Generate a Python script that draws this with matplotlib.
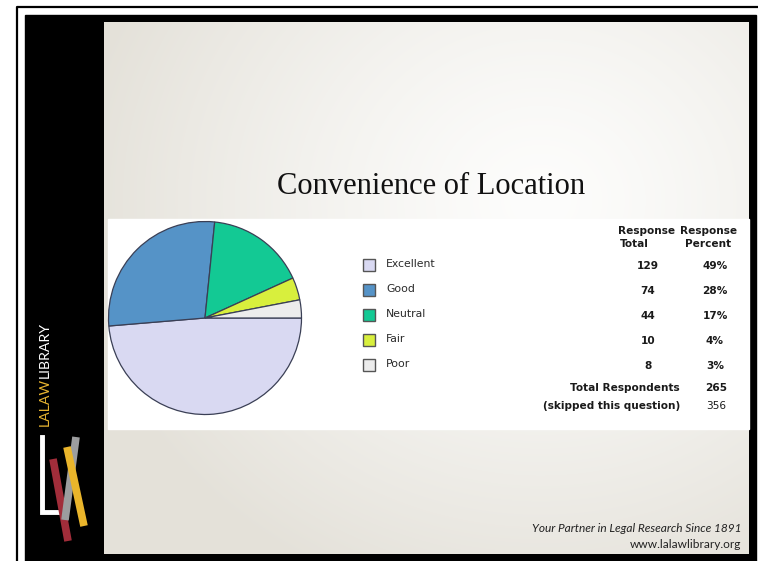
import numpy as np
import matplotlib.pyplot as plt
from matplotlib.patches import Rectangle

# survey data
labels = ['Excellent', 'Good', 'Neutral', 'Fair', 'Poor']
totals = [129, 74, 44, 10, 8]
percents = ['49%', '28%', '17%', '4%', '3%']
colors = ['#d9d9f2', '#5593c7', '#13c994', '#d8ef3d', '#ececec']
total_respondents = 265
skipped = 356

W, H = 758, 561
fig = plt.figure(figsize=(W / 100, H / 100), dpi=100)
fig.patch.set_facecolor('white')

# background axes in pixel coordinates (y downward)
bg = fig.add_axes([0, 0, 1, 1])
bg.set_xlim(0, W)
bg.set_ylim(H, 0)
bg.axis('off')

# outer thin frame
bg.plot([16.5, 16.5, W], [H, 6.5, 6.5], color='black', lw=1.6, solid_capstyle='butt')
# black slide frame
bg.add_patch(Rectangle((25, 15), 731, H - 15, color='black', zorder=1))

# slide background gradient
x0, x1, y0, y1 = 104, 749, 22, 554
yy, xx = np.mgrid[y0:y1, x0:x1]
d = np.sqrt((xx - 540) ** 2 + ((yy - 200) / 0.9) ** 2)
t = np.clip(d / 470, 0, 1) ** 1.3
c_in = np.array([253, 253, 252]) / 255
c_out = np.array([228, 225, 217]) / 255
img = c_in[None, None, :] * (1 - t[..., None]) + c_out[None, None, :] * t[..., None]
bg.imshow(img, extent=(x0, x1, y1, y0), aspect='auto', zorder=2, interpolation='bilinear')
bg.set_xlim(0, W)
bg.set_ylim(H, 0)

# white chart panel
bg.add_patch(Rectangle((108, 219), 749 - 108, 429 - 219, color='white', zorder=3))

# title
bg.text(431, 186, 'Convenience of Location', family='Liberation Serif', fontsize=22,
        ha='center', va='center', color='#111111', zorder=5)

# legend
for i, (lab, col) in enumerate(zip(labels, colors)):
    y = 265 + 25 * i
    bg.add_patch(Rectangle((363, y - 6), 12, 12, facecolor=col, edgecolor='#555555',
                           lw=1.0, zorder=5))
    bg.text(386, y - 1, lab, fontsize=7.8, ha='left', va='center', color='#2a2a2a', zorder=5)

# table
tkw = dict(fontsize=7.6, fontweight='bold', color='#1a1a1a', zorder=5, va='center')
bg.text(647, 231, 'Response', ha='center', **tkw)
bg.text(620, 244, 'Total', ha='left', **tkw)
bg.text(709, 231, 'Response', ha='center', **tkw)
bg.text(685, 244, 'Percent', ha='left', **tkw)
for i, (n, p) in enumerate(zip(totals, percents)):
    y = 266 + 25 * i
    bg.text(648, y, str(n), ha='center', **tkw)
    bg.text(715, y, p, ha='center', **tkw)
bg.text(680, 388, 'Total Respondents', ha='right', **tkw)
bg.text(716, 388, str(total_respondents), ha='center', **tkw)
bg.text(680, 406, '(skipped this question)', ha='right', **tkw)
bg.text(716, 406, str(skipped), ha='center', fontsize=7.6, color='#1a1a1a', va='center', zorder=5)

# footer
bg.text(741, 528, 'Your Partner in Legal Research Since 1891', family='Lato', style='italic',
        fontsize=8.6, ha='right', va='center', color='#222222', zorder=5)
bg.text(741, 544, 'www.lalawlibrary.org', family='Lato', fontsize=8.6,
        ha='right', va='center', color='#222222', zorder=5)

# sidebar logo
t1 = bg.text(45, 426, 'LALAW', family='Lato', fontsize=10.2, rotation=90, rotation_mode='anchor',
             ha='left', va='center', color='#e8b531', zorder=5)
fig.canvas.draw()
ext = t1.get_window_extent()
top_px = H - ext.y1
bg.text(45, top_px, 'LIBRARY', family='Lato', fontsize=10.2, rotation=90, rotation_mode='anchor',
        ha='left', va='center', color='white', zorder=5)
bg.plot([42, 42, 58], [437, 512, 512], color='white', lw=3.5, solid_joinstyle='miter', zorder=5)
bg.plot([53, 68], [459, 541], color='#a12d3a', lw=5.5, solid_capstyle='butt', zorder=6)
bg.plot([76, 65], [437, 520], color='#9c9d9f', lw=5.5, solid_capstyle='butt', zorder=7)
bg.plot([67, 84], [447, 526], color='#eab52b', lw=5.5, solid_capstyle='butt', zorder=8)

# pie
cx, cy, r = 205, 318, 96.5
pax = fig.add_axes([(cx - r) / W, (H - cy - r) / H, 2 * r / W, 2 * r / H])
pax.pie(totals, colors=colors, startangle=0, counterclock=False,
        wedgeprops=dict(edgecolor='#3a3f55', linewidth=0.9))
pax.set_xlim(-1, 1)
pax.set_ylim(-1, 1)
pax.set_aspect('equal')

fig.savefig('out.png', dpi=100)
